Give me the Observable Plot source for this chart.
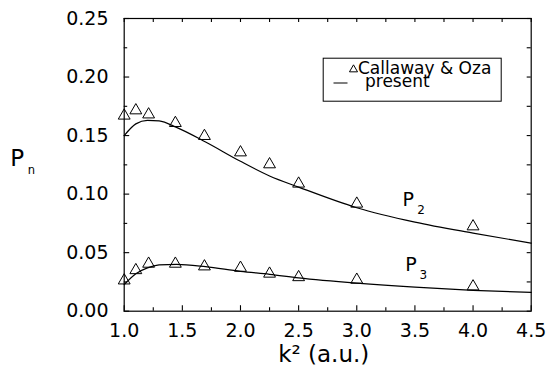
<!DOCTYPE html>
<html>
<head>
<meta charset="utf-8">
<script src="https://cdn.jsdelivr.net/npm/d3@7"></script>
<script src="https://cdn.jsdelivr.net/npm/@observablehq/plot@0.6"></script>
<style>
  html, body { margin: 0; padding: 0; background: white; }
  #chart { width: 547px; height: 369px; }
</style>
</head>
<body>
<div id="chart"></div>
<script>
// Callaway & Oza data points (triangles)
const k2 = [1.0, 1.1, 1.21, 1.44, 1.69, 2.0, 2.25, 2.5, 3.0, 4.0];
const callawayP2 = [0.1670, 0.1715, 0.1680, 0.1607, 0.1496, 0.1356, 0.1254, 0.1089, 0.0918, 0.0724];
const callawayP3 = [0.0262, 0.0350, 0.0405, 0.0405, 0.0382, 0.0370, 0.0320, 0.0290, 0.0268, 0.0211];

// present calculation (curves)
const kCurve = [1.0, 1.1, 1.2, 1.3, 1.45, 1.7, 2.0, 2.25, 2.5, 3.0, 3.5, 4.0, 4.5];
const presentP2 = [0.150, 0.160, 0.163, 0.1625, 0.157, 0.1445, 0.128, 0.1155, 0.106, 0.0884, 0.0761, 0.0667, 0.0581];
const presentP3 = [0.0228, 0.032, 0.037, 0.0395, 0.0400, 0.0380, 0.0340, 0.0315, 0.0285, 0.0240, 0.0205, 0.0178, 0.0160];

// ticks
const xMajor = [1.0, 1.5, 2.0, 2.5, 3.0, 3.5, 4.0, 4.5];
const xMinor = [1.25, 1.75, 2.25, 2.75, 3.25, 3.75, 4.25];
const yMajor = [0.00, 0.05, 0.10, 0.15, 0.20, 0.25];
const yMinor = [0.025, 0.075, 0.125, 0.175, 0.225];

const legendLabels = ["Callaway & Oza", "present"];
const xLabel = "k² (a.u.)";

const points = [];
k2.forEach((k, i) => {
  points.push({k, v: callawayP2[i], s: "P2"});
  points.push({k, v: callawayP3[i], s: "P3"});
});
const curve2 = kCurve.map((k, i) => ({k, v: presentP2[i]}));
const curve3 = kCurve.map((k, i) => ({k, v: presentP3[i]}));

const W = 547, H = 369;
const ML = 123.7, MR = 16.3, MT = 18, MB = 58.3;
const FW = W - ML - MR, FH = H - MT - MB;
const ident = d => d;
// tick lengths expressed in data units of each scale
const xPerPx = 3.5 / FW, yPerPx = 0.25 / FH;

const chart = Plot.plot({
  width: W, height: H,
  marginLeft: ML, marginRight: MR, marginTop: MT, marginBottom: MB,
  style: {fontFamily: "DejaVu Sans", fontSize: "19px", background: "white", color: "black"},
  x: {domain: [1, 4.5]},
  y: {domain: [0, 0.25]},
  marks: [
    // tick labels
    Plot.axisX(xMajor, {tickSize: 0, tickPadding: 12.3, tickFormat: d3.format(".1f"), label: null, fontSize: 19}),
    Plot.axisY(yMajor, {tickSize: 0, tickPadding: 15.7, tickFormat: d3.format(".2f"), label: null, fontSize: 19}),
    // inward ticks on all four sides
    Plot.ruleX(xMajor, {x: ident, y1: 0, y2: 5.5 * yPerPx, stroke: "black", strokeWidth: 1.1}),
    Plot.ruleX(xMinor, {x: ident, y1: 0, y2: 3.5 * yPerPx, stroke: "black", strokeWidth: 1.1}),
    Plot.ruleX(xMajor.concat(xMinor), {x: ident, y1: 0.25, y2: 0.25 - 4 * yPerPx, stroke: "black", strokeWidth: 1.1}),
    Plot.ruleY(yMajor, {y: ident, x1: 1, x2: 1 + 5.5 * xPerPx, stroke: "black", strokeWidth: 1.1}),
    Plot.ruleY(yMinor, {y: ident, x1: 1, x2: 1 + 3.5 * xPerPx, stroke: "black", strokeWidth: 1.1}),
    Plot.ruleY(yMajor.concat(yMinor), {y: ident, x1: 4.5, x2: 4.5 - 4 * xPerPx, stroke: "black", strokeWidth: 1.1}),
    Plot.frame({stroke: "black", strokeWidth: 1.2}),
    // curves
    Plot.line(curve2, {x: "k", y: "v", curve: "monotone-x", stroke: "black", strokeWidth: 1.2}),
    Plot.line(curve3, {x: "k", y: "v", curve: "monotone-x", stroke: "black", strokeWidth: 1.2}),
    // triangles
    Plot.dot(points, {x: "k", y: "v", symbol: "triangle", r: 4.4, stroke: "black", strokeWidth: 1, fill: "none"}),
    // curve labels
    Plot.text(["P"], {x: 3.393, y: 0.0895, text: ident, textAnchor: "start", lineAnchor: "bottom", fontSize: 19}),
    Plot.text(["2"], {x: 3.52, y: 0.0832, text: ident, textAnchor: "start", lineAnchor: "bottom", fontSize: 12}),
    Plot.text(["P"], {x: 3.417, y: 0.0342, text: ident, textAnchor: "start", lineAnchor: "bottom", fontSize: 19}),
    Plot.text(["3"], {x: 3.539, y: 0.0277, text: ident, textAnchor: "start", lineAnchor: "bottom", fontSize: 12}),
    // y-axis label P_n
    Plot.text(["P"], {frameAnchor: "top-left", dx: 9.7 - ML, dy: 165 - MT, text: ident, textAnchor: "start", lineAnchor: "bottom", fontSize: 23}),
    Plot.text(["n"], {frameAnchor: "top-left", dx: 27.3 - ML, dy: 173.5 - MT, text: ident, textAnchor: "start", lineAnchor: "bottom", fontSize: 11.5}),
    // x-axis label
    Plot.text([xLabel], {frameAnchor: "bottom", dx: -4, dy: 361.7 - (H - MB), text: ident, textAnchor: "middle", lineAnchor: "bottom", fontSize: 23}),
    // legend
    Plot.frame({stroke: "black", strokeWidth: 1, fill: "white", insetLeft: 322.7 - ML, insetTop: 57.7 - MT, insetRight: W - MR - 500.7, insetBottom: H - MB - 100.7}),
    Plot.dot([0], {frameAnchor: "top-left", dx: 353 - ML, dy: 69 - MT, symbol: "triangle", r: 3, stroke: "black", strokeWidth: 1, fill: "none"}),
    Plot.text([legendLabels[0]], {frameAnchor: "top-left", dx: 357.5 - ML, dy: 73.3 - MT, text: ident, textAnchor: "start", lineAnchor: "bottom", fontSize: 17}),
    Plot.frame({stroke: null, fill: "black", insetLeft: 333 - ML, insetRight: W - MR - 347, insetTop: 82 - MT, insetBottom: H - MB - 83}),
    Plot.text([legendLabels[1]], {frameAnchor: "top-left", dx: 364.5 - ML, dy: 86.7 - MT, text: ident, textAnchor: "start", lineAnchor: "bottom", fontSize: 17})
  ]
});
document.getElementById("chart").appendChild(chart);
</script>
</body>
</html>
